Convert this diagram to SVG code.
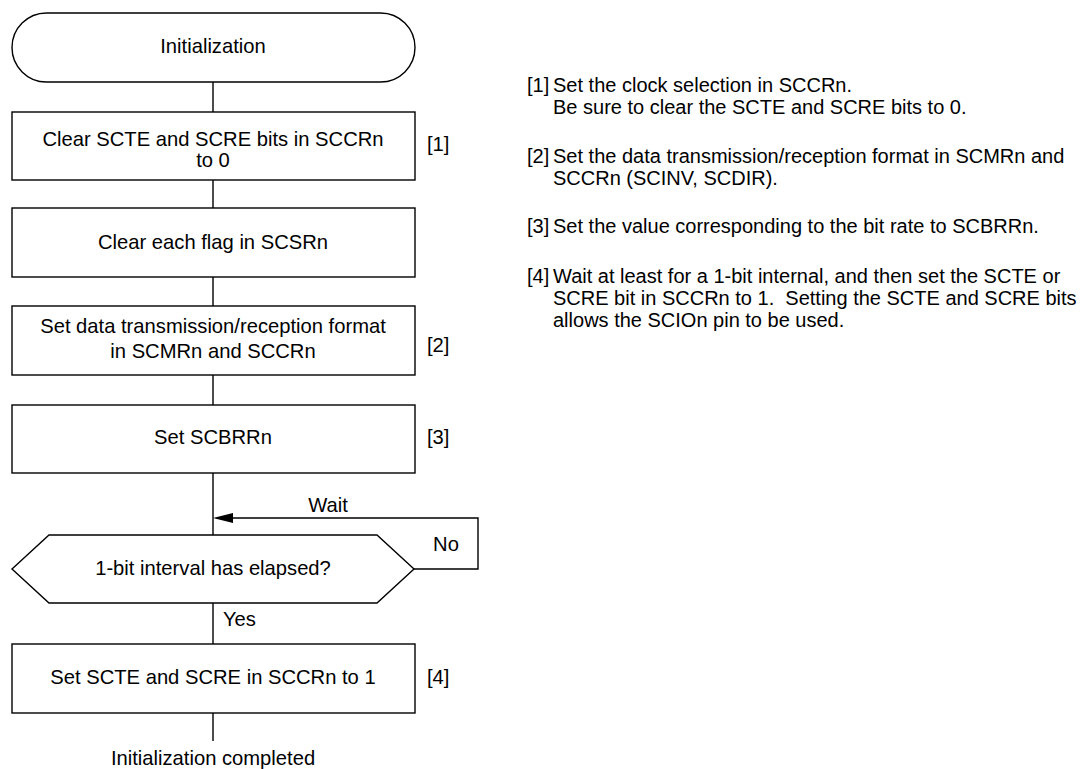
<svg xmlns="http://www.w3.org/2000/svg" width="1086" height="769" viewBox="0 0 1086 769">
<style>
.shape{fill:#fff;stroke:#000;stroke-width:1.4}
.ln{fill:none;stroke:#000;stroke-width:1.4}
.t{font-family:"Liberation Sans",Arial,sans-serif;font-size:20.2px;fill:#000}
.n{font-family:"Liberation Sans",Arial,sans-serif;font-size:20px;fill:#000}
.c{text-anchor:middle}
</style>
<g id="connectors">
<line class="ln" x1="213" y1="82" x2="213" y2="112"/>
<line class="ln" x1="213" y1="180" x2="213" y2="208"/>
<line class="ln" x1="213" y1="277" x2="213" y2="306"/>
<line class="ln" x1="213" y1="375" x2="213" y2="405"/>
<line class="ln" x1="213" y1="473" x2="213" y2="535"/>
<path class="ln" d="M414,569 H478 V518 H233"/>
<path d="M213,518 L233,513 L233,523 Z" fill="#000"/>
<line class="ln" x1="213" y1="603" x2="213" y2="644"/>
<line class="ln" x1="213" y1="713" x2="213" y2="741"/>
<text class="t c" x="328" y="512">Wait</text>
<text class="t c" x="446" y="551">No</text>
<text class="t" x="223" y="626">Yes</text>
</g>
<g id="start">
<rect class="shape" x="12" y="13" width="403" height="69" rx="34.5" ry="34.5"/>
<text class="t c" x="213" y="53">Initialization</text>
</g>
<g id="step1">
<rect class="shape" x="12" y="112" width="403" height="68"/>
<text class="t c" x="213" y="146">Clear SCTE and SCRE bits in SCCRn</text>
<text class="t c" x="213" y="167">to 0</text>
<text class="t" x="427" y="151">[1]</text>
</g>
<g id="clearflags">
<rect class="shape" x="12" y="208" width="403" height="69"/>
<text class="t c" x="213" y="249">Clear each flag in SCSRn</text>
</g>
<g id="step2">
<rect class="shape" x="12" y="306" width="403" height="69"/>
<text class="t c" x="213" y="333">Set data transmission/reception format</text>
<text class="t c" x="213" y="358">in SCMRn and SCCRn</text>
<text class="t" x="427" y="352">[2]</text>
</g>
<g id="step3">
<rect class="shape" x="12" y="405" width="403" height="68"/>
<text class="t c" x="213" y="444">Set SCBRRn</text>
<text class="t" x="427" y="444">[3]</text>
</g>
<g id="decision">
<polygon class="shape" points="12,569 49,535 377,535 414,569 377,603 49,603"/>
<text class="t c" x="213" y="575">1-bit interval has elapsed?</text>
</g>
<g id="step4">
<rect class="shape" x="12" y="644" width="403" height="69"/>
<text class="t c" x="213" y="684">Set SCTE and SCRE in SCCRn to 1</text>
<text class="t" x="427" y="684">[4]</text>
</g>
<g id="end">
<text class="t c" x="213" y="765">Initialization completed</text>
</g>
<g id="notes">
<text class="n" x="527" y="92">[1]</text>
<text class="n" x="553" y="92">Set the clock selection in SCCRn.</text>
<text class="n" x="553" y="114">Be sure to clear the SCTE and SCRE bits to 0.</text>
<text class="n" x="527" y="163">[2]</text>
<text class="n" x="553" y="163">Set the data transmission/reception format in SCMRn and</text>
<text class="n" x="553" y="185">SCCRn (SCINV, SCDIR).</text>
<text class="n" x="527" y="233">[3]</text>
<text class="n" x="553" y="233">Set the value corresponding to the bit rate to SCBRRn.</text>
<text class="n" x="527" y="283">[4]</text>
<text class="n" x="553" y="283">Wait at least for a 1-bit internal, and then set the SCTE or</text>
<text class="n" x="553" y="305" xml:space="preserve">SCRE bit in SCCRn to 1.  Setting the SCTE and SCRE bits</text>
<text class="n" x="553" y="327">allows the SCIOn pin to be used.</text>
</g>
</svg>
